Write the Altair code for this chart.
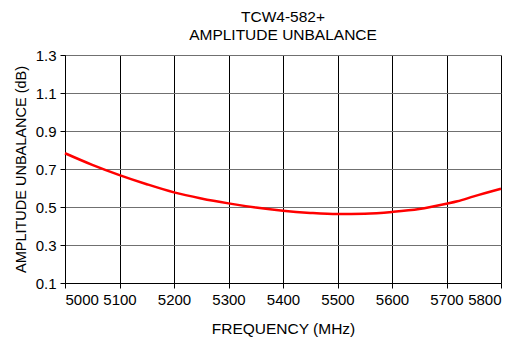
import altair as alt
import pandas as pd

freq = [5000, 5050, 5100, 5150, 5200, 5250, 5300, 5350, 5400, 5450, 5500, 5550, 5600, 5650, 5700, 5720, 5750, 5800]
unbal = [0.783, 0.722, 0.668, 0.620, 0.577, 0.545, 0.519, 0.497, 0.480, 0.469, 0.463, 0.465, 0.474, 0.489, 0.517, 0.530, 0.556, 0.596]

df = pd.DataFrame({"freq": freq, "unbal": unbal})

font = "Liberation Sans"

line = alt.Chart(df).mark_line(color="#ff0000", strokeWidth=2.5, interpolate="monotone").encode(
    x=alt.X("freq:Q", scale=alt.Scale(domain=[5000, 5800], nice=False),
            axis=alt.Axis(title="FREQUENCY (MHz)", values=list(range(5000, 5801, 100)),
                          format="d", grid=True, gridColor="#000000", gridWidth=1,
                          tickColor="#000000", domainColor="#000000", tickSize=5,
                          labelFontSize=15, titleFontSize=15.5, labelFont=font, titleFont=font,
                          labelColor="#000000", titleColor="#000000", titleFontWeight="normal",
                          labelPadding=4, titlePadding=14)),
    y=alt.Y("unbal:Q", scale=alt.Scale(domain=[0.1, 1.3], nice=False, zero=False),
            axis=alt.Axis(title="AMPLITUDE UNBALANCE (dB)", values=[0.1, 0.3, 0.5, 0.7, 0.9, 1.1, 1.3],
                          format=".1f", grid=True, gridColor="#707070", gridWidth=1,
                          tickColor="#000000", domainColor="#000000", tickSize=5,
                          labelFontSize=15, titleFontSize=14.5, labelFont=font, titleFont=font,
                          labelColor="#000000", titleColor="#000000", titleFontWeight="normal",
                          labelPadding=4, titlePadding=7)),
)

chart = line.properties(
    width=436, height=228,
    title=alt.TitleParams(["TCW4-582+", "AMPLITUDE UNBALANCE"], font=font, fontSize=15.5,
                          fontWeight="normal", color="#000000", anchor="middle", offset=5,
                          lineHeight=18),
    autosize=alt.AutoSizeParams(type="none"),
    padding={"left": 57, "top": 47, "right": 10, "bottom": 56},
).configure_view(stroke="#000000", strokeWidth=1).configure(background="#ffffff")

chart.save("out.html", embed_options={"renderer": "svg", "actions": False})
